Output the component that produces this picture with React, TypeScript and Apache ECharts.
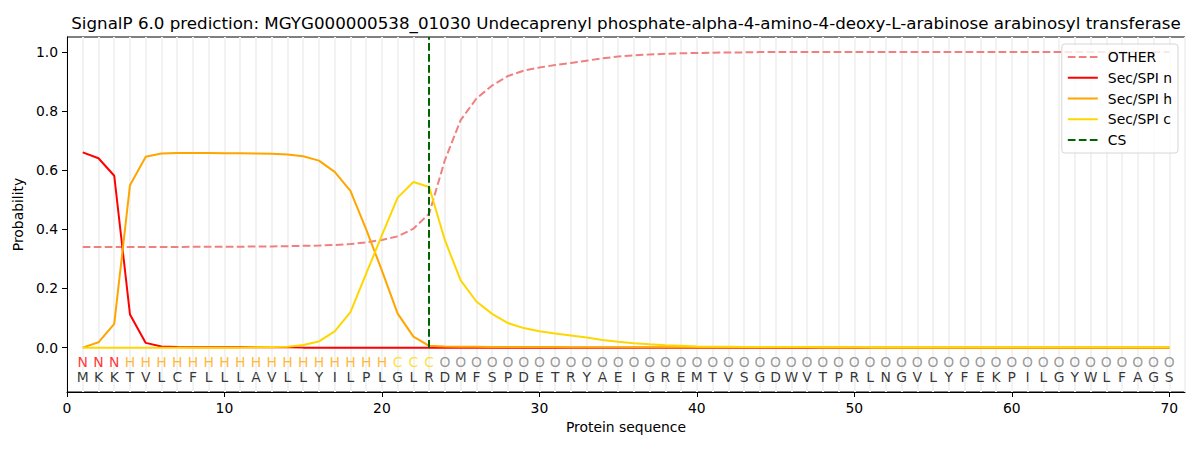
import React, { useEffect, useRef } from "react";
import * as echarts from "echarts";

const residues = "MKKTVLCFLLLAVLLYILPLGLRDMFSPDETRYAEIGREMTVSGDWVTPRLNGVLYFEKPILGYWLFAGS".split("");
const regionLabels = "NNNHHHHHHHHHHHHHHHHHCCCOOOOOOOOOOOOOOOOOOOOOOOOOOOOOOOOOOOOOOOOOOOOOOO".split("");

const otherProb = [
  0.340, 0.340, 0.340, 0.340, 0.340, 0.340, 0.340, 0.341, 0.341, 0.341,
  0.341, 0.342, 0.342, 0.343, 0.344, 0.345, 0.347, 0.350, 0.356, 0.364,
  0.376, 0.402, 0.453, 0.634, 0.769, 0.842, 0.886, 0.918, 0.936, 0.947,
  0.955, 0.962, 0.970, 0.978, 0.984, 0.988, 0.991, 0.993, 0.995, 0.996,
  0.997, 0.998, 0.998, 0.999, 0.999, 0.999, 0.999, 0.999, 0.999, 0.999,
  0.999, 0.999, 0.999, 0.999, 0.999, 0.999, 0.999, 0.999, 0.999, 0.999,
  0.999, 0.999, 0.999, 0.999, 0.999, 0.999, 0.999, 0.999, 0.999, 0.999,
];
const secN = [
  0.660, 0.640, 0.581, 0.112, 0.016, 0.004, 0.002, 0.001, 0.001, 0.001,
  0.001, 0.001, 0.001, 0.001, 0.000, 0.000, 0.000, 0.000, 0.000, 0.000,
  0.000, 0.000, 0.000, 0.000, 0.000, 0.000, 0.000, 0.000, 0.000, 0.000,
  0.000, 0.000, 0.000, 0.000, 0.000, 0.000, 0.000, 0.000, 0.000, 0.000,
  0.000, 0.000, 0.000, 0.000, 0.000, 0.000, 0.000, 0.000, 0.000, 0.000,
  0.000, 0.000, 0.000, 0.000, 0.000, 0.000, 0.000, 0.000, 0.000, 0.000,
  0.000, 0.000, 0.000, 0.000, 0.000, 0.000, 0.000, 0.000, 0.000, 0.000,
];
const secH = [
  0.000, 0.018, 0.080, 0.549, 0.645, 0.656, 0.658, 0.658, 0.658, 0.657,
  0.657, 0.656, 0.655, 0.653, 0.647, 0.632, 0.594, 0.530, 0.400, 0.260,
  0.115, 0.037, 0.006, 0.004, 0.003, 0.003, 0.002, 0.002, 0.002, 0.002,
  0.002, 0.001, 0.001, 0.001, 0.001, 0.001, 0.001, 0.001, 0.001, 0.001,
  0.001, 0.001, 0.001, 0.001, 0.001, 0.001, 0.001, 0.001, 0.001, 0.001,
  0.000, 0.000, 0.000, 0.000, 0.000, 0.000, 0.000, 0.000, 0.000, 0.000,
  0.000, 0.000, 0.000, 0.000, 0.000, 0.000, 0.000, 0.000, 0.000, 0.000,
];
const secC = [
  0.000, 0.000, 0.000, 0.000, 0.000, 0.000, 0.000, 0.000, 0.000, 0.000,
  0.000, 0.001, 0.002, 0.003, 0.009, 0.021, 0.055, 0.120, 0.250, 0.380,
  0.507, 0.560, 0.543, 0.363, 0.227, 0.156, 0.114, 0.083, 0.066, 0.055,
  0.048, 0.041, 0.034, 0.026, 0.020, 0.015, 0.011, 0.008, 0.006, 0.004,
  0.003, 0.003, 0.002, 0.002, 0.002, 0.002, 0.002, 0.001, 0.001, 0.001,
  0.001, 0.001, 0.001, 0.001, 0.001, 0.001, 0.001, 0.001, 0.001, 0.001,
  0.001, 0.001, 0.001, 0.001, 0.001, 0.001, 0.001, 0.001, 0.001, 0.001,
];
const cleavageSite = 23;
const csTop = 1.05;
const xTicks = [0, 10, 20, 30, 40, 50, 60, 70];
const yTicks = [0, 0.2, 0.4, 0.6, 0.8, 1.0];
const labelRowY = -0.05;
const residueRowY = -0.1;

const labelColors: Record<string, string> = {
  N: "#ff0000",
  H: "#ffa500",
  C: "#ffd700",
  O: "#808080",
};

const FONT = "DejaVu Sans";
const DASH = [7.7, 3.3];

export default function App() {
  const ref = useRef<HTMLDivElement>(null);
  useEffect(() => {
    if (!ref.current) return;
    const chart = echarts.init(ref.current, undefined, { renderer: "svg" });
    const pos = residues.map((_, i) => i + 1);
    const mk = (vals: number[]) => pos.map((p, i) => [p, vals[i]]);
    const lineSeries = (name: string, vals: number[], color: string, dashed: boolean) => ({
      name,
      type: "line",
      data: mk(vals),
      symbol: "none",
      showSymbol: false,
      lineStyle: { color, width: 2, type: dashed ? DASH : "solid" },
      itemStyle: { color },
      z: 3,
    });
    const axisFont = { fontFamily: FONT, fontSize: 13.9, color: "#000" };
    chart.setOption({
      animation: false,
      title: {
        text: "SignalP 6.0 prediction: MGYG000000538_01030 Undecaprenyl phosphate-alpha-4-amino-4-deoxy-L-arabinose arabinosyl transferase",
        left: 626,
        top: 14,
        padding: 0,
        textAlign: "center",
        textStyle: { fontFamily: FONT, fontSize: 16.7, fontWeight: "normal", color: "#000" },
      },
      grid: {
        left: 67,
        right: 15,
        top: 37,
        bottom: 58,
        show: true,
        borderColor: "#000",
        borderWidth: 1,
        backgroundColor: "transparent",
      },
      legend: {
        data: ["OTHER", "Sec/SPI n", "Sec/SPI h", "Sec/SPI c", "CS"],
        orient: "vertical",
        right: 22,
        top: 44,
        padding: [6, 6, 6, 5],
        itemWidth: 30,
        itemHeight: 14,
        itemGap: 6.75,
        backgroundColor: "rgba(255,255,255,0.8)",
        borderColor: "#d6d6d6",
        borderWidth: 1,
        borderRadius: 3,
        itemStyle: { color: "rgba(0,0,0,0)", borderColor: "rgba(0,0,0,0)", borderWidth: 0 },
        textStyle: { fontFamily: FONT, fontSize: 13.9, color: "#000", padding: [0, 0, 0, 5] },
      },
      xAxis: [
        {
          type: "value",
          min: 0,
          max: 71,
          name: "Protein sequence",
          nameLocation: "middle",
          nameGap: 28,
          nameTextStyle: axisFont,
          axisLine: { show: true, onZero: false, lineStyle: { color: "#000", width: 1 } },
          axisTick: { show: true, customValues: xTicks, length: 5, lineStyle: { color: "#000" } },
          axisLabel: {
            show: true,
            customValues: xTicks,
            margin: 9,
            ...axisFont,
            formatter: (v: number) => String(v),
          },
          splitLine: { show: false },
        },
        {
          type: "value",
          min: 0,
          max: 71,
          interval: 1,
          position: "bottom",
          axisLine: { show: false },
          axisTick: { show: false },
          axisLabel: { show: false },
          splitLine: { show: true, lineStyle: { color: "#f2f2f2", width: 2 } },
        },
      ],
      yAxis: {
        type: "value",
        min: -0.15,
        max: 1.05,
        name: "Probability",
        nameLocation: "middle",
        nameGap: 38,
        nameTextStyle: axisFont,
        axisLine: { show: true, onZero: false, lineStyle: { color: "#000", width: 1 } },
        axisTick: { show: true, customValues: yTicks, length: 5, lineStyle: { color: "#000" } },
        axisLabel: {
          show: true,
          customValues: yTicks,
          margin: 9,
          ...axisFont,
          formatter: (v: number) => v.toFixed(1),
        },
        splitLine: { show: false },
      },
      series: [
        lineSeries("OTHER", otherProb, "#f08080", true),
        lineSeries("Sec/SPI n", secN, "#ff0000", false),
        lineSeries("Sec/SPI h", secH, "#ffa500", false),
        lineSeries("Sec/SPI c", secC, "#ffd700", false),
        {
          name: "CS",
          type: "line",
          data: [],
          symbol: "none",
          lineStyle: { color: "#006400", width: 2, type: DASH },
          itemStyle: { color: "#006400" },
          markLine: {
            silent: true,
            symbol: ["none", "none"],
            label: { show: false },
            lineStyle: { color: "#006400", width: 2, type: DASH },
            data: [[{ coord: [cleavageSite, 0] }, { coord: [cleavageSite, csTop] }]],
            z: 4,
          },
        },
        {
          name: "regions",
          type: "scatter",
          symbolSize: 1,
          itemStyle: { color: "rgba(0,0,0,0)" },
          data: pos.map((p, i) => ({
            value: [p, labelRowY],
            label: { color: labelColors[regionLabels[i]] },
          })),
          label: {
            show: true,
            position: "inside",
            fontFamily: FONT,
            fontSize: 13.9,
            formatter: (pr: any) => regionLabels[pr.dataIndex],
          },
          z: 5,
        },
        {
          name: "residues",
          type: "scatter",
          symbolSize: 1,
          itemStyle: { color: "rgba(0,0,0,0)" },
          data: pos.map((p) => [p, residueRowY]),
          label: {
            show: true,
            position: "inside",
            fontFamily: FONT,
            fontSize: 13.9,
            color: "#000",
            formatter: (pr: any) => residues[pr.dataIndex],
          },
          z: 5,
        },
      ],
    });
    return () => chart.dispose();
  }, []);
  return (
    <div
      ref={ref}
      style={{ position: "absolute", left: 0, top: 0, width: 1200, height: 450, background: "#fff" }}
    />
  );
}
